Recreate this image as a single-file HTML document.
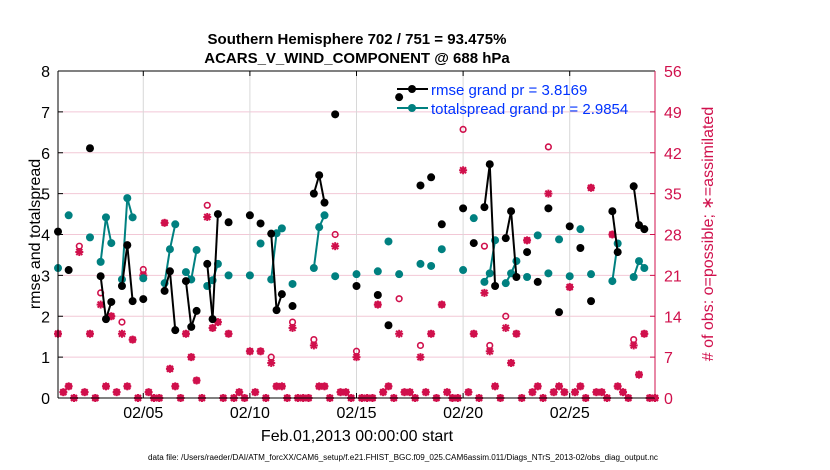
<!DOCTYPE html>
<html><head><meta charset="utf-8"><style>
body{margin:0;background:#fff;}
svg{display:block;font-family:"Liberation Sans",sans-serif;}
</style></head><body>
<svg id="chart" width="830" height="470" viewBox="0 0 830 470" xmlns="http://www.w3.org/2000/svg">
<rect width="830" height="470" fill="#fff"/>
<text x="357" y="44" text-anchor="middle" font-size="15" font-weight="bold">Southern Hemisphere 702 / 751 = 93.475%</text>
<text x="357" y="63" text-anchor="middle" font-size="15" font-weight="bold">ACARS_V_WIND_COMPONENT @ 688 hPa</text>
<g id="grid"></g>
<g id="marks"></g>
<g id="axes"></g>
<text transform="translate(40,234) rotate(-90)" text-anchor="middle" font-size="16">rmse and totalspread</text>
<text transform="translate(713,234) rotate(-90)" text-anchor="middle" font-size="16" fill="#d0104c"># of obs: o=possible; ∗=assimilated</text>
<text x="357" y="441" text-anchor="middle" font-size="16">Feb.01,2013 00:00:00 start</text>
<text x="148" y="460" font-size="8" textLength="510" lengthAdjust="spacingAndGlyphs">data file: /Users/raeder/DAI/ATM_forcXX/CAM6_setup/f.e21.FHIST_BGC.f09_025.CAM6assim.011/Diags_NTrS_2013-02/obs_diag_output.nc</text>
<g id="legend">
<line x1="397" y1="89" x2="428" y2="89" stroke="#000" stroke-width="2"/>
<circle cx="412" cy="89" r="4" fill="#000"/>
<text x="431" y="95" font-size="15" fill="#0033ff">rmse grand pr = 3.8169</text>
<line x1="397" y1="108" x2="428" y2="108" stroke="#008080" stroke-width="2"/>
<circle cx="412" cy="108" r="4" fill="#008080"/>
<text x="431" y="114" font-size="15" fill="#0033ff">totalspread grand pr = 2.9854</text>
</g>
</svg>
<script>
// slot index = 6-hour step from Feb 01 00:00
const rmseSlots=[0,2,6,8,9,10,12,13,14,16,20,21,22,24,25,26,28,29,30,32,36,38,40,41,42,44,48,49,50,52,56,60,62,64,68,70,72,76,78,80,81,82,84,85,86,88,90,92,94,96,98,100,104,105,108,109,110];
const rmseVals=[4.07,3.13,6.11,2.98,1.93,2.35,2.74,3.74,2.37,2.42,2.62,3.1,1.66,2.86,1.74,2.13,3.28,1.93,4.5,4.3,4.47,4.27,4.02,2.15,2.54,2.25,5.0,5.45,4.78,6.94,2.74,2.52,1.78,7.36,5.2,5.4,4.25,4.64,3.79,4.67,5.72,2.74,3.91,4.57,2.96,3.57,2.84,4.64,2.1,4.2,3.67,2.37,4.57,3.57,5.18,4.23,4.13];
const spreadSlots=rmseSlots;
const spreadVals=[3.18,4.47,3.93,3.33,4.42,3.79,2.9,4.89,4.42,2.93,2.81,3.64,4.25,3.08,2.9,3.62,2.74,2.88,3.28,3.0,3.0,3.78,2.9,4.03,4.15,2.79,3.18,4.18,4.47,2.98,3.03,3.1,3.83,3.03,3.28,3.23,3.64,3.13,4.4,2.84,3.05,3.86,2.81,3.05,3.35,2.96,3.98,3.05,3.88,2.98,4.13,3.03,2.86,3.78,2.96,3.35,3.18];
const possibleObs=[11,1,2,0,26,1,11,0,18,2,14,1,13,2,10,0,22,1,0,0,30,5,2,0,11,7,3,0,33,12,13,0,11,0,1,0,8,1,8,0,7,2,2,0,13,0,0,0,10,2,2,0,28,1,1,0,8,0,0,0,16,1,2,0,17,1,1,0,9,1,11,0,16,1,0,0,46,1,11,0,26,9,2,0,14,6,11,0,27,1,2,0,43,1,2,1,19,1,2,0,36,1,1,0,28,2,1,0,10,4,11,0,0];
const assimObs=[11,1,2,0,25,1,11,0,16,2,14,1,11,2,10,0,21,1,0,0,30,5,2,0,11,7,3,0,31,12,13,0,11,0,1,0,8,1,8,0,6,2,2,0,12,0,0,0,9,2,2,0,26,1,1,0,7,0,0,0,16,1,2,0,11,1,1,0,7,1,11,0,16,1,0,0,39,1,11,0,18,8,2,0,12,6,11,0,27,1,2,0,35,1,2,1,19,1,2,0,36,1,1,0,28,2,1,0,9,4,11,0,0];
const leftTicks=[0,1,2,3,4,5,6,7,8];
const rightTicks=[0,7,14,21,28,35,42,49,56];
const xTickDays=[4,9,14,19,24];
const xTickLabels=["02/05","02/10","02/15","02/20","02/25"];

const X0=58,X1=655,Y0=398,Y1=71,DAYS=28;
const sx=s=>X0+(s/4)*(X1-X0)/DAYS;
const sd=d=>X0+d*(X1-X0)/DAYS;
const yl=v=>Y0-v*(Y0-Y1)/8;
const yr=v=>Y0-v*(Y0-Y1)/56;
const NS="http://www.w3.org/2000/svg";
function mk(tag,attrs,parent){const e=document.createElementNS(NS,tag);for(const k in attrs)e.setAttribute(k,attrs[k]);parent.appendChild(e);return e;}
const grid=document.getElementById('grid'),marks=document.getElementById('marks'),axes=document.getElementById('axes');
const MAG="#d0104c";

rightTicks.forEach((t,i)=>{
  if(i>0&&i<rightTicks.length-1){const l=mk('line',{x1:X0,x2:X1,y1:yr(t),y2:yr(t),stroke:'#f2c8d6','stroke-width':1},grid);
  
  }
  const tx=mk('text',{x:X1+9,y:yr(t)+6,'font-size':16,fill:MAG},axes);tx.textContent=t;
  
  
  mk('line',{x1:X1-5,x2:X1,y1:yr(t),y2:yr(t),stroke:MAG,'stroke-width':1},axes);
});
xTickDays.forEach((d,i)=>{
  const l=mk('line',{x1:sd(d),x2:sd(d),y1:Y1,y2:Y0,stroke:'#d8d8d8','stroke-width':1},grid);
  
  
  const tx=mk('text',{x:sd(d),y:418,'font-size':16,'text-anchor':'middle'},axes);tx.textContent=xTickLabels[i];
  
  
  mk('line',{x1:sd(d),x2:sd(d),y1:Y0,y2:Y0-5,stroke:'#000'},axes);
  mk('line',{x1:sd(d),x2:sd(d),y1:Y1,y2:Y1+5,stroke:'#000'},axes);
});
leftTicks.forEach(t=>{
  const tx=mk('text',{x:X0-8,y:yl(t)+6,'font-size':16,'text-anchor':'end'},axes);tx.textContent=t;
  
  
  mk('line',{x1:X0,x2:X0+5,y1:yl(t),y2:yl(t),stroke:'#000'},axes);
});
mk('line',{x1:X0,x2:X1,y1:Y1,y2:Y1,stroke:'#000'},axes);
mk('line',{x1:X0,x2:X1,y1:Y0,y2:Y0,stroke:'#000'},axes);
mk('line',{x1:X0,x2:X0,y1:Y1,y2:Y0,stroke:'#000'},axes);
mk('line',{x1:X1,x2:X1,y1:Y1,y2:Y0,stroke:MAG},axes);

// obs counts
possibleObs.forEach((v,i)=>{
  const c=mk('circle',{cx:sx(i),cy:yr(v),r:2.8,fill:'none',stroke:MAG,'stroke-width':1.6},marks);
  
  
});
assimObs.forEach((v,i)=>{
  const g=mk('g',{stroke:MAG,'stroke-width':2},marks);
  
  
  const x=sx(i),y=yr(v),r=4;
  mk('line',{x1:x-r,x2:x+r,y1:y,y2:y},g);mk('line',{x1:x,x2:x,y1:y-r,y2:y+r},g);
  mk('line',{x1:x-3,x2:x+3,y1:y-3,y2:y+3},g);mk('line',{x1:x-3,x2:x+3,y1:y+3,y2:y-3},g);
});
function series(slots,vals,color,name){
  for(let i=1;i<slots.length;i++){
    if(slots[i]-slots[i-1]===1){
      const l=mk('line',{x1:sx(slots[i-1]),y1:yl(vals[i-1]),x2:sx(slots[i]),y2:yl(vals[i]),stroke:color,'stroke-width':2},marks);
      
      
    }
  }
  slots.forEach((s,i)=>{
    const c=mk('circle',{cx:sx(s),cy:yl(vals[i]),r:4,fill:color},marks);
    
    
  });
}
series(spreadSlots,spreadVals,'#008080','totalspread');
series(rmseSlots,rmseVals,'#000000','rmse');
</script>
</body></html>
